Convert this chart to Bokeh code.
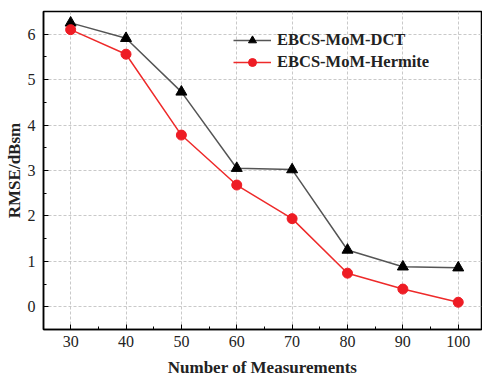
from bokeh.plotting import figure
from bokeh.models import Range1d, Legend, LegendItem, FixedTicker
from bokeh.embed import file_html
from bokeh.resources import INLINE

measurements = [30, 40, 50, 60, 70, 80, 90, 100]
dct = [6.25, 5.91, 4.73, 3.05, 3.02, 1.25, 0.88, 0.86]
hermite = [6.10, 5.56, 3.78, 2.68, 1.94, 0.74, 0.39, 0.10]
x_ticks = [30, 40, 50, 60, 70, 80, 90, 100]
y_ticks = [0, 1, 2, 3, 4, 5, 6]

FONT = "Liberation Serif"

p = figure(width=482, height=379, output_backend="svg", toolbar_location=None,
           x_range=Range1d(25.1, 104.2), y_range=Range1d(-0.5, 6.5),
           min_border_left=43, min_border_right=1, min_border_top=11, min_border_bottom=10)

p.outline_line_color = "black"
p.outline_line_width = 1.5

for ax in (p.xaxis[0], p.yaxis[0]):
    ax.axis_line_width = 1.5
    ax.major_tick_in = 5
    ax.major_tick_out = 0
    ax.minor_tick_in = 3
    ax.minor_tick_out = 0
    ax.major_label_text_font = FONT
    ax.major_label_text_font_size = "16px"
    ax.major_label_text_color = "#222222"
    ax.axis_label_text_font = FONT
    ax.axis_label_text_font_style = "bold"
    ax.axis_label_text_font_size = "17px"
    ax.axis_label_text_color = "#222222"

p.xaxis.ticker = FixedTicker(ticks=x_ticks, minor_ticks=[35, 45, 55, 65, 75, 85, 95])
p.yaxis.ticker = FixedTicker(ticks=y_ticks, minor_ticks=[-0.5, 0.5, 1.5, 2.5, 3.5, 4.5, 5.5])
p.xaxis.axis_label = "Number of Measurements"
p.yaxis.axis_label = "RMSE/dBsm"
p.xaxis.major_label_standoff = 6
p.xaxis.axis_label_standoff = 8
p.yaxis.major_label_standoff = 8
p.yaxis.axis_label_standoff = 1

p.xgrid.grid_line_color = "#bbbbbb"
p.ygrid.grid_line_color = "#bbbbbb"
p.xgrid.grid_line_dash = "3 2"
p.ygrid.grid_line_dash = "3 2"
p.xgrid.grid_line_width = 0.8
p.ygrid.grid_line_width = 0.8

l1 = p.line(measurements, dct, line_color="#555555", line_width=1.5)
m1 = p.scatter(measurements, dct, marker="triangle", size=11, fill_color="black", line_color="black")
l2 = p.line(measurements, hermite, line_color="#ee2a2a", line_width=1.5)
m2 = p.scatter(measurements, hermite, marker="circle", size=10, fill_color="#ee1c24", line_color="#ee1c24")

legend = Legend(items=[LegendItem(label="EBCS-MoM-DCT", renderers=[l1, m1]),
                       LegendItem(label="EBCS-MoM-Hermite", renderers=[l2, m2])],
                location=(190, 257), border_line_color=None, background_fill_alpha=0,
                label_text_font=FONT, label_text_font_style="bold", label_text_font_size="16.5px",
                label_text_color="#222222", glyph_width=38, label_standoff=6,
                spacing=2, padding=2)
p.add_layout(legend, "center")

open("out.html", "w").write(file_html(p, INLINE))
